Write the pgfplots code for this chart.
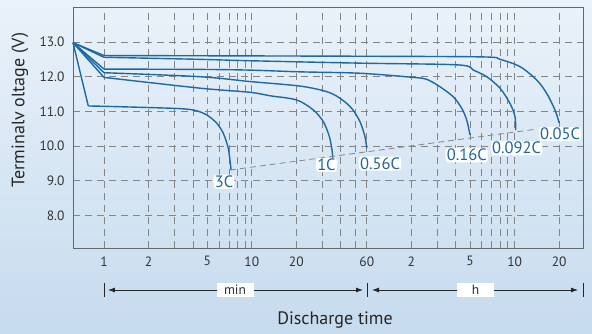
\documentclass[border=0pt]{standalone}
\usepackage{pgfplots}
\pgfplotsset{compat=1.18}
\usepackage{fontspec}
\setmainfont{PT Sans}
\usetikzlibrary{arrows.meta}
\definecolor{curve}{HTML}{1B69A6}
\definecolor{lab}{HTML}{1F64A0}
\definecolor{gridc}{HTML}{858585}
\definecolor{bgtop}{HTML}{EAF2FA}
\definecolor{bgbot}{HTML}{C6DBEE}
\begin{document}
\begin{tikzpicture}[x=1pt,y=1pt]
\useasboundingbox (-73,-85) rectangle (519,248);
\shade[top color=bgtop, bottom color=bgbot] (-73,-85) rectangle (519,248);
\begin{axis}[
  at={(0,0)}, anchor=south west,
  scale only axis, width=510pt, height=241pt,
  xmode=log, xmin=0.617, xmax=1741, ymin=7.063, ymax=14.009,
  axis line style={draw=black!60, line width=0.9pt},
  xtick={1,2,5,10,20,60,120,300,600,1200},
  xticklabels={1,2,5,10,20,60,2,5,10,20},
  minor xtick={3,4,6,7,8,9,30,40,50,180,240,360,420,480,540},
  ytick={8,9,10,11,12,13},
  yticklabels={8.0,9.0,10.0,11.0,12.0,13.0},
  major tick length=0pt, minor tick length=0pt,
  xmajorgrids, xminorgrids, ymajorgrids,
  major grid style={gridc, dash pattern=on 7pt off 5pt, line width=0.8pt},
  minor grid style={gridc, dash pattern=on 7pt off 5pt, line width=0.8pt},
  tick label style={font=\fontsize{13.5}{15}\selectfont, text=black!80},
  xticklabel style={yshift=-5pt},
  yticklabel style={xshift=-5pt},
  clip=false,
]
% initial straight drops
\addplot[curve, line width=1.4pt, sharp plot] coordinates {(0.617,12.98) (0.783,11.156)};
\addplot[curve, line width=1.4pt, sharp plot] coordinates {(0.617,12.98) (1,11.98)};
\addplot[curve, line width=1.4pt, sharp plot] coordinates {(0.617,12.98) (1,12.115)};
\addplot[curve, line width=1.4pt, sharp plot] coordinates {(0.617,12.98) (1,12.22)};
\addplot[curve, line width=1.4pt, sharp plot] coordinates {(0.617,12.98) (1,12.56)};
\addplot[curve, line width=1.4pt, sharp plot] coordinates {(0.617,12.98) (1,12.61)};
% 3C
\addplot[curve, line width=1.4pt, smooth] coordinates {
(0.783,11.156) (1,11.147) (2.05,11.11) (3.27,11.08) (4.13,11.03) (4.95,10.90)
(5.79,10.66) (6.41,10.37) (6.93,9.94) (7.20,9.41) (7.23,9.31)};
% 1C
\addplot[curve, line width=1.4pt, smooth] coordinates {
(1,11.98) (4.46,11.67) (9.72,11.55) (13.3,11.45) (20.1,11.33) (26.1,11.04)
(30.5,10.70) (33.5,10.27) (34.9,9.88) (35.3,9.64)};
% 0.56C
\addplot[curve, line width=1.4pt, smooth] coordinates {
(1,12.115) (4.46,12.0) (9.72,11.86) (21.2,11.73) (32.1,11.57) (39.5,11.38)
(47.4,11.09) (54.0,10.70) (58.3,10.27) (59.9,9.94)};
% 0.16C
\addplot[curve, line width=1.4pt, smooth] coordinates {
(1,12.22) (4.46,12.21) (9.72,12.19) (21.2,12.14) (54.0,12.10) (123.8,11.98)
(152.5,11.925) (187.6,11.71) (230.8,11.42) (263.1,11.09) (284.5,10.75) (299.5,10.32)};
% 0.092C
\addplot[curve, line width=1.4pt, smooth] coordinates {
(1,12.56) (4.46,12.50) (9.72,12.46) (54.0,12.39) (249.5,12.34) (315.3,12.19)
(388.3,12.0) (477.8,11.67) (558.3,11.23) (603.5,10.85) (610.6,10.46)};
% 0.05C
\addplot[curve, line width=1.4pt, smooth] coordinates {
(1,12.61) (54,12.59) (368.6,12.57) (477.8,12.50) (652.7,12.29) (846.6,11.905)
(989,11.52) (1125,11.04) (1204,10.66)};
% end-of-discharge dashed line
\addplot[gridc, dash pattern=on 6pt off 4pt, line width=0.8pt] coordinates {(7.12,9.31) (851,10.49)};
% labels
\begin{scope}[every node/.style={fill=white, rounded corners=3pt, inner sep=1.2pt, text=lab, font=\fontsize{16.5}{16.5}\selectfont}]
\node at (axis cs:6.49,8.97) {3C};
\node at (axis cs:32.0,9.455) {1C};
\node at (axis cs:73.7,9.50) {0.56C};
\node at (axis cs:284.5,9.74) {0.16C};
\node at (axis cs:619.6,9.94) {0.092C};
\node at (axis cs:1217,10.35) {0.05C};
\end{scope}
\end{axis}
% y label
\node[rotate=90, font=\fontsize{18}{18}\selectfont, text=black!85] at (-53,138) {Terminalv oltage (V)};
% x label
\node[font=\fontsize{18}{18}\selectfont, text=black!85] at (262,-72) {Discharge time};
% arrows
\draw[black!85, line width=0.8pt] (31,-35) -- (31,-49);
\draw[black!85, line width=0.8pt] (294,-35) -- (294,-49);
\draw[black!85, line width=0.8pt] (510,-35) -- (510,-49);
\draw[black!85, line width=0.8pt, {Latex[length=7pt,width=5pt]}-{Latex[length=7pt,width=5pt]}] (35,-42) -- (290,-42);
\draw[black!85, line width=0.8pt, {Latex[length=7pt,width=5pt]}-{Latex[length=7pt,width=5pt]}] (299,-42) -- (505,-42);
\node[fill=white, minimum width=37pt, minimum height=14pt, inner sep=0pt, font=\fontsize{13.5}{14}\selectfont, text=black!80] at (162,-42) {min};
\node[fill=white, minimum width=37pt, minimum height=14pt, inner sep=0pt, font=\fontsize{13.5}{14}\selectfont, text=black!80] at (402.5,-42) {h};
\end{tikzpicture}
\end{document}
